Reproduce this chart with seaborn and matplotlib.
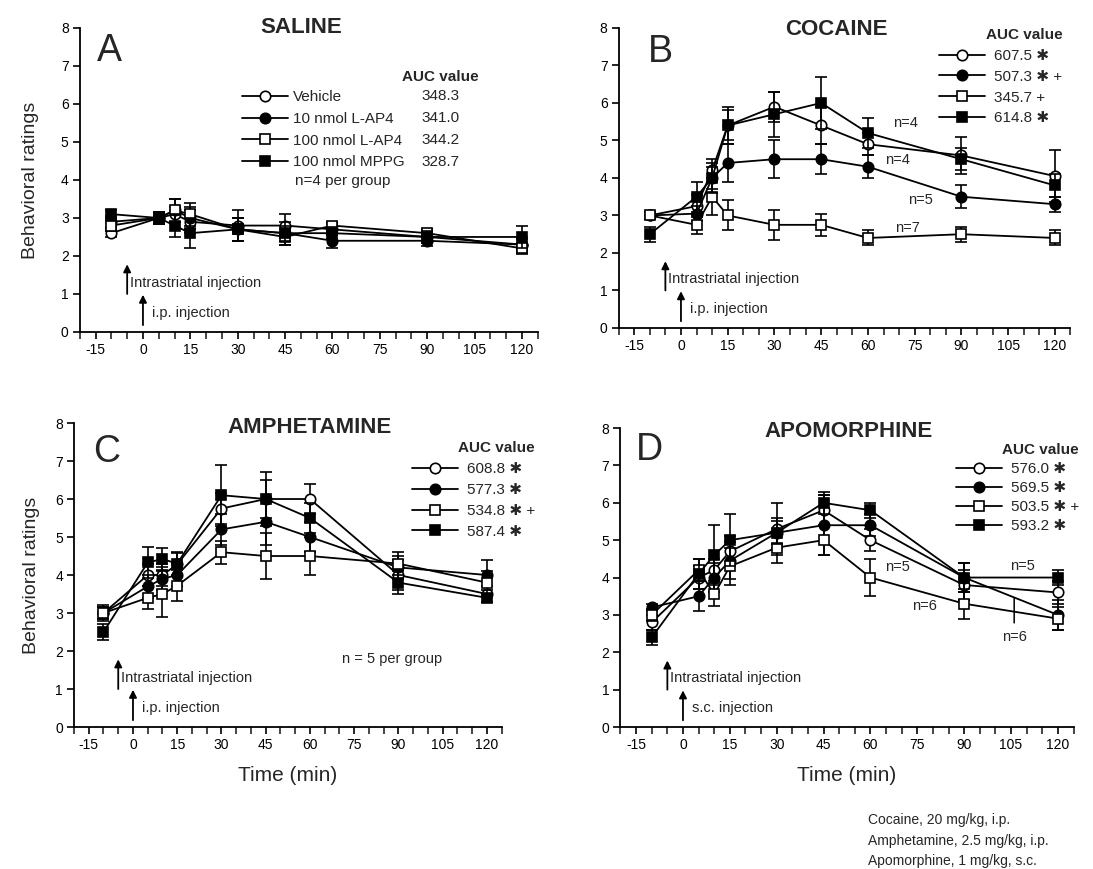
import numpy as np
import pandas as pd
import matplotlib
matplotlib.use("Agg")
import matplotlib.pyplot as plt
from matplotlib.lines import Line2D
from matplotlib.ticker import MultipleLocator
import seaborn as sns

# ---------------- data ----------------
times = [-10, 5, 10, 15, 30, 45, 60, 90, 120]

# Panel A: saline
sal_vehicle = [2.6, 3.0, 3.1, 2.9, 2.8, 2.8, 2.7, 2.5, 2.3]
sal_vehicle_err = [0.1, 0.15, 0.2, 0.3, 0.4, 0.3, 0.15, 0.15, 0.15]
sal_lap4_10 = [2.9, 3.0, 3.2, 3.0, 2.7, 2.6, 2.4, 2.4, 2.3]
sal_lap4_10_err = [0.15, 0.15, 0.3, 0.3, 0.3, 0.3, 0.2, 0.15, 0.2]
sal_lap4_100 = [2.8, 3.0, 3.2, 3.1, 2.7, 2.5, 2.8, 2.6, 2.2]
sal_lap4_100_err = [0.15, 0.15, 0.3, 0.3, 0.3, 0.2, 0.1, 0.1, 0.15]
sal_mppg = [3.1, 3.0, 2.8, 2.6, 2.7, 2.6, 2.6, 2.5, 2.5]
sal_mppg_err = [0.1, 0.15, 0.3, 0.4, 0.3, 0.2, 0.15, 0.15, 0.3]

# Panel B: cocaine
coc_vehicle = [3.0, 3.25, 4.2, 5.4, 5.9, 5.4, 4.9, 4.6, 4.05]
coc_vehicle_err = [0.1, 0.3, 0.3, 0.4, 0.4, 0.5, 0.3, 0.5, 0.7]
coc_lap4_10 = [3.0, 3.05, 4.0, 4.4, 4.5, 4.5, 4.3, 3.5, 3.3]
coc_lap4_10_err = [0.1, 0.2, 0.3, 0.5, 0.5, 0.4, 0.3, 0.3, 0.2]
coc_lap4_100 = [3.0, 2.75, 3.5, 3.0, 2.75, 2.75, 2.4, 2.5, 2.4]
coc_lap4_100_err = [0.1, 0.25, 0.5, 0.4, 0.4, 0.3, 0.2, 0.2, 0.2]
coc_mppg = [2.5, 3.5, 4.0, 5.4, 5.7, 6.0, 5.2, 4.5, 3.8]
coc_mppg_err = [0.2, 0.4, 0.4, 0.5, 0.6, 0.7, 0.4, 0.3, 0.3]

# Panel C: amphetamine
amp_vehicle = [3.0, 4.0, 4.0, 4.28, 5.75, 6.0, 6.0, 4.0, 3.5]
amp_vehicle_err = [0.2, 0.3, 0.3, 0.3, 0.4, 0.7, 0.4, 0.4, 0.2]
amp_lap4_10 = [3.0, 3.7, 3.9, 4.0, 5.2, 5.4, 5.0, 4.2, 4.0]
amp_lap4_10_err = [0.15, 0.3, 0.3, 0.3, 0.4, 0.6, 0.4, 0.3, 0.4]
amp_lap4_100 = [3.0, 3.4, 3.5, 3.72, 4.6, 4.5, 4.5, 4.3, 3.8]
amp_lap4_100_err = [0.15, 0.3, 0.6, 0.4, 0.3, 0.6, 0.5, 0.3, 0.3]
amp_mppg = [2.5, 4.33, 4.42, 4.3, 6.1, 6.0, 5.5, 3.8, 3.4]
amp_mppg_err = [0.2, 0.4, 0.3, 0.3, 0.8, 0.5, 0.4, 0.3, 0.1]

# Panel D: apomorphine
apo_vehicle = [2.8, 4.0, 4.2, 4.7, 5.3, 5.8, 5.0, 3.8, 3.6]
apo_vehicle_err = [0.2, 0.3, 0.3, 0.4, 0.7, 0.4, 0.3, 0.4, 0.3]
apo_lap4_10 = [3.2, 3.5, 4.0, 4.45, 5.2, 5.4, 5.4, 4.0, 3.0]
apo_lap4_10_err = [0.1, 0.4, 0.4, 0.5, 0.4, 0.8, 0.3, 0.4, 0.4]
apo_lap4_100 = [3.0, 4.2, 3.55, 4.3, 4.8, 5.0, 4.0, 3.3, 2.9]
apo_lap4_100_err = [0.15, 0.3, 0.3, 0.5, 0.4, 0.4, 0.5, 0.4, 0.3]
apo_mppg = [2.4, 4.1, 4.6, 5.0, 5.2, 6.0, 5.8, 4.0, 4.0]
apo_mppg_err = [0.2, 0.4, 0.8, 0.7, 0.3, 0.3, 0.2, 0.4, 0.2]

group_labels = ["Vehicle", "10 nmol L-AP4", "100 nmol L-AP4", "100 nmol MPPG"]
sal_auc = ["348.3", "341.0", "344.2", "328.7"]
STAR = "\u2731"
PLUS = "+"
coc_auc = ["607.5 " + STAR, "507.3 " + STAR + " " + PLUS, "345.7 " + PLUS, "614.8 " + STAR]
amp_auc = ["608.8 " + STAR, "577.3 " + STAR, "534.8 " + STAR + " " + PLUS, "587.4 " + STAR]
apo_auc = ["576.0 " + STAR, "569.5 " + STAR, "503.5 " + STAR + " " + PLUS, "593.2 " + STAR]

x_ticks = [-15, 0, 15, 30, 45, 60, 75, 90, 105, 120]
y_ticks = [0, 1, 2, 3, 4, 5, 6, 7, 8]

# ---------------- style ----------------
sns.set_theme(style="ticks")
plt.rcParams["font.family"] = ["Liberation Sans", "DejaVu Sans"]
plt.rcParams["axes.linewidth"] = 1.3
plt.rcParams["xtick.major.width"] = 1.2
plt.rcParams["ytick.major.width"] = 1.2
plt.rcParams["xtick.minor.width"] = 1.2
plt.rcParams["xtick.major.size"] = 5
plt.rcParams["xtick.minor.size"] = 5
plt.rcParams["ytick.major.size"] = 5

styles = [
    dict(marker="o", mfc="white"),
    dict(marker="o", mfc="black"),
    dict(marker="s", mfc="white"),
    dict(marker="s", mfc="black"),
]

fig = plt.figure(figsize=(10.93, 8.69), dpi=100)
fig.patch.set_facecolor("white")

positions = {
    "A": [0.073, 0.618, 0.419, 0.3498],
    "B": [0.566, 0.6226, 0.4134, 0.3452],
    "C": [0.0677, 0.1634, 0.3913, 0.3498],
    "D": [0.5677, 0.1634, 0.4145, 0.344],
}

panels = {
    "A": ([sal_vehicle, sal_lap4_10, sal_lap4_100, sal_mppg],
          [sal_vehicle_err, sal_lap4_10_err, sal_lap4_100_err, sal_mppg_err]),
    "B": ([coc_vehicle, coc_lap4_10, coc_lap4_100, coc_mppg],
          [coc_vehicle_err, coc_lap4_10_err, coc_lap4_100_err, coc_mppg_err]),
    "C": ([amp_vehicle, amp_lap4_10, amp_lap4_100, amp_mppg],
          [amp_vehicle_err, amp_lap4_10_err, amp_lap4_100_err, amp_mppg_err]),
    "D": ([apo_vehicle, apo_lap4_10, apo_lap4_100, apo_mppg],
          [apo_vehicle_err, apo_lap4_10_err, apo_lap4_100_err, apo_mppg_err]),
}

titles = {"A": ("SALINE", 50, 8.02), "B": ("COCAINE", 50, 7.97),
          "C": ("AMPHETAMINE", 60, 7.87), "D": ("APOMORPHINE", 53, 7.92)}
letters = {"A": (-14.5, 7.4), "B": (-10.5, 7.35), "C": (-13.5, 7.25), "D": (-15, 7.4)}

axes = {}
for key, pos in positions.items():
    ax = fig.add_axes(pos)
    axes[key] = ax
    means, errs = panels[key]
    for i, (m, e) in enumerate(zip(means, errs)):
        df = pd.DataFrame({"time": times, "rating": m})
        ax.errorbar(times, m, yerr=e, fmt="none", ecolor="black",
                    elinewidth=1.2, capsize=4, capthick=1.2, zorder=2 + i)
        sns.lineplot(data=df, x="time", y="rating", ax=ax, color="black",
                     lw=1.3, marker=styles[i]["marker"],
                     markerfacecolor=styles[i]["mfc"], markeredgecolor="black",
                     markeredgewidth=1.2, markersize=7.5, zorder=3 + i)
    ax.set_xlim(-20, 125)
    ax.set_ylim(0, 8)
    ax.set_xticks(x_ticks)
    ax.set_xticklabels([str(t) for t in x_ticks])
    ax.xaxis.set_minor_locator(MultipleLocator(5))
    ax.set_yticks(y_ticks)
    ax.tick_params(axis="both", labelsize=10, direction="out", color="black",
                   labelcolor="black", pad=3)
    ax.tick_params(axis="x", which="minor", direction="out")
    for s in ["top", "right"]:
        ax.spines[s].set_visible(False)
    for s in ["left", "bottom"]:
        ax.spines[s].set_color("black")
    ax.set_xlabel("")
    ax.set_ylabel("")
    ax.set_facecolor("white")
    t, tx, ty = titles[key]
    ax.text(tx, ty, t, ha="center", va="center", fontsize=16, fontweight="bold")
    lx, ly = letters[key]
    ax.text(lx, ly, key, ha="left", va="center", fontsize=27)

    # injection arrows
    second = "s.c. injection" if key == "D" else "i.p. injection"
    ax.annotate("", xy=(-5, 1.78), xytext=(-5, 1.0),
                arrowprops=dict(arrowstyle="-|>", color="black", lw=1.3,
                                mutation_scale=11, shrinkA=0, shrinkB=0))
    ax.text(-4, 1.3, "Intrastriatal injection", fontsize=10.5, va="center", ha="left")
    ax.annotate("", xy=(0, 0.98), xytext=(0, 0.18),
                arrowprops=dict(arrowstyle="-|>", color="black", lw=1.3,
                                mutation_scale=11, shrinkA=0, shrinkB=0))
    ax.text(3, 0.5, second, fontsize=10.5, va="center", ha="left")

handles = [Line2D([0], [0], color="black", lw=1.3, marker=s["marker"],
                  markerfacecolor=s["mfc"], markeredgecolor="black",
                  markeredgewidth=1.2, markersize=7.5) for s in styles]

# Panel A legend
axA = axes["A"]
axA.legend(handles, group_labels, loc="upper left", bbox_to_anchor=(0.355, 0.795),
           frameon=False, fontsize=11, handlelength=3.0, handletextpad=0.3,
           labelspacing=0.5, borderaxespad=0, borderpad=0)
axA.text(82, 6.72, "AUC value", fontsize=11, fontweight="bold", va="center")
auc_y = [6.2, 5.63, 5.05, 4.48]
for yy, v in zip(auc_y, sal_auc):
    axA.text(88.3, yy, v, fontsize=11, va="center")
axA.text(48, 3.97, "n=4 per group", fontsize=11, va="center")
axA.set_ylabel("Behavioral ratings", fontsize=14, labelpad=16)

legend_specs = {
    "B": (coc_auc, (0.71, 1.0), 0.45),
    "C": (amp_auc, (0.79, 0.94), 0.45),
    "D": (apo_auc, (0.74, 0.95), 0.33),
}
for key, (labs, anchor, lsp) in legend_specs.items():
    ax = axes[key]
    leg = ax.legend(handles, labs, loc="upper left", bbox_to_anchor=anchor,
                    frameon=False, fontsize=11, handlelength=3.0,
                    handletextpad=0.6, labelspacing=lsp, borderaxespad=0,
                    borderpad=0, title="AUC value",
                    title_fontproperties={"weight": "bold", "size": 11},
                    alignment="right")

axes["C"].set_ylabel("Behavioral ratings", fontsize=14, labelpad=11)
axes["C"].set_xlabel("Time (min)", fontsize=15, labelpad=10)
axes["D"].set_xlabel("Time (min)", fontsize=15, labelpad=10)

# n annotations
axB = axes["B"]
axB.text(72, 5.47, "n=4", fontsize=10.5, ha="center", va="center")
axB.text(69.5, 4.48, "n=4", fontsize=10.5, ha="center", va="center")
axB.text(77, 3.41, "n=5", fontsize=10.5, ha="center", va="center")
axB.text(72.7, 2.67, "n=7", fontsize=10.5, ha="center", va="center")

axes["C"].text(88, 1.8, "n = 5 per group", fontsize=10.5, ha="center", va="center")

axD = axes["D"]
axD.text(68.5, 4.27, "n=5", fontsize=10.5, ha="center", va="center")
axD.text(77.4, 3.24, "n=6", fontsize=10.5, ha="center", va="center")
axD.text(108.5, 4.3, "n=5", fontsize=10.5, ha="center", va="center")
axD.annotate("n=6", xy=(106, 3.45), xytext=(106, 2.4), fontsize=10.5,
             ha="center", va="center",
             arrowprops=dict(arrowstyle="-", color="black", lw=1.1,
                             shrinkA=3, shrinkB=0))

fig.text(0.794, 1 - 820 / 869, "Cocaine, 20 mg/kg, i.p.", fontsize=10, va="center")
fig.text(0.794, 1 - 841 / 869, "Amphetamine, 2.5 mg/kg, i.p.", fontsize=10, va="center")
fig.text(0.794, 1 - 861 / 869, "Apomorphine, 1 mg/kg, s.c.", fontsize=10, va="center")

fig.savefig("out.png", dpi=100, facecolor="white")
